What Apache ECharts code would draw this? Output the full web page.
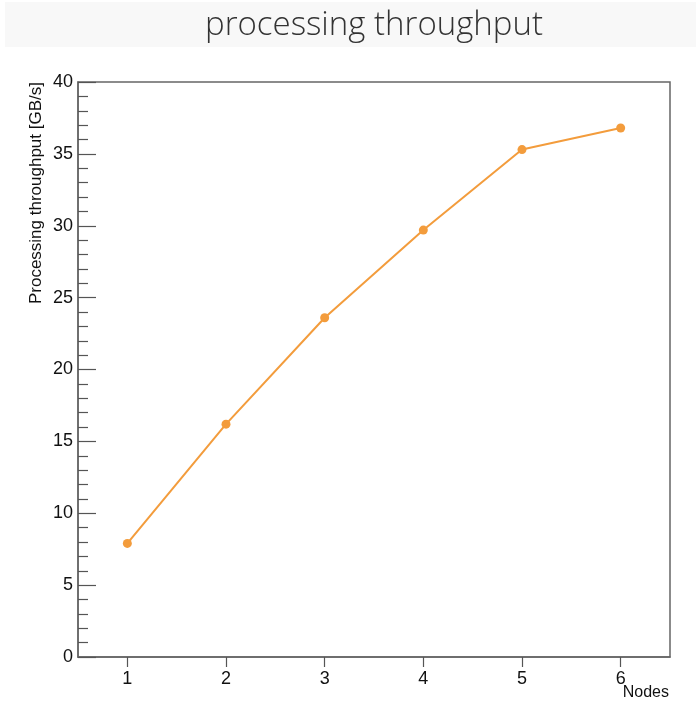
<!DOCTYPE html>
<html>
<head>
<meta charset="utf-8">
<script src="https://cdn.jsdelivr.net/npm/echarts@6/dist/echarts.min.js"></script>
<style>
html,body{margin:0;padding:0;background:#fff;}
#chart{width:696px;height:701px;}
</style>
</head>
<body>
<div id="chart"></div>
<script>
var titleText = 'processing throughput';
var xName = 'Nodes';
var yName = 'Processing throughput [GB/s]';
var nodes = ['1', '2', '3', '4', '5', '6'];
var throughput = [7.9, 16.2, 23.6, 29.7, 35.3, 36.8];
var yMin = 0, yMax = 40, yStep = 5;

var chart = echarts.init(document.getElementById('chart'));
var axisColor = '#555';
chart.setOption({
  animation: false,
  backgroundColor: '#fff',
  graphic: [
    {type: 'rect', left: 5, top: 2, shape: {width: 691, height: 45}, style: {fill: '#f8f8f8'}, z: -1},
    {type: 'text', x: 374, y: 26, style: {text: titleText, font: '300 33px "Open Sans", "Noto Sans", sans-serif', fill: '#333', textAlign: 'center', textVerticalAlign: 'middle'}},
    {type: 'text', x: 36, y: 82, rotation: Math.PI / 2, style: {text: yName, font: '17px "Liberation Sans", Arial, sans-serif', fill: '#111', textAlign: 'right', textVerticalAlign: 'middle'}},
    {type: 'text', x: 669, y: 693, style: {text: xName, font: '16px "Liberation Sans", Arial, sans-serif', fill: '#111', textAlign: 'right', textVerticalAlign: 'middle'}}
  ],
  grid: {left: 78, right: 26, top: 82, bottom: 44, show: true, borderColor: '#666', borderWidth: 1.5, backgroundColor: 'transparent'},
  xAxis: {
    type: 'category',
    data: nodes,
    boundaryGap: true,
    axisLine: {show: true, lineStyle: {color: '#666', width: 1.5}},
    axisTick: {show: true, alignWithLabel: true, inside: false, length: 10, lineStyle: {color: axisColor, width: 1.2}},
    axisLabel: {color: '#111', fontSize: 18, fontFamily: '"Liberation Sans", Arial, sans-serif', margin: 13},
    splitLine: {show: false}
  },
  yAxis: {
    type: 'value',
    min: yMin, max: yMax, interval: yStep,
    axisLine: {show: true, lineStyle: {color: '#666', width: 1.5}},
    axisTick: {show: true, inside: true, length: 18, lineStyle: {color: axisColor, width: 1.2}},
    minorTick: {show: true, splitNumber: 5, length: 10, lineStyle: {color: axisColor, width: 1.2}},
    axisLabel: {color: '#111', fontSize: 18, fontFamily: '"Liberation Sans", Arial, sans-serif', margin: 5},
    splitLine: {show: false},
    minorSplitLine: {show: false}
  },
  series: [{
    type: 'line',
    data: throughput,
    symbol: 'circle',
    symbolSize: 9,
    itemStyle: {color: '#f39c3c'},
    lineStyle: {color: '#f39c3c', width: 2},
    z: 5
  }]
});
</script>
</body>
</html>
